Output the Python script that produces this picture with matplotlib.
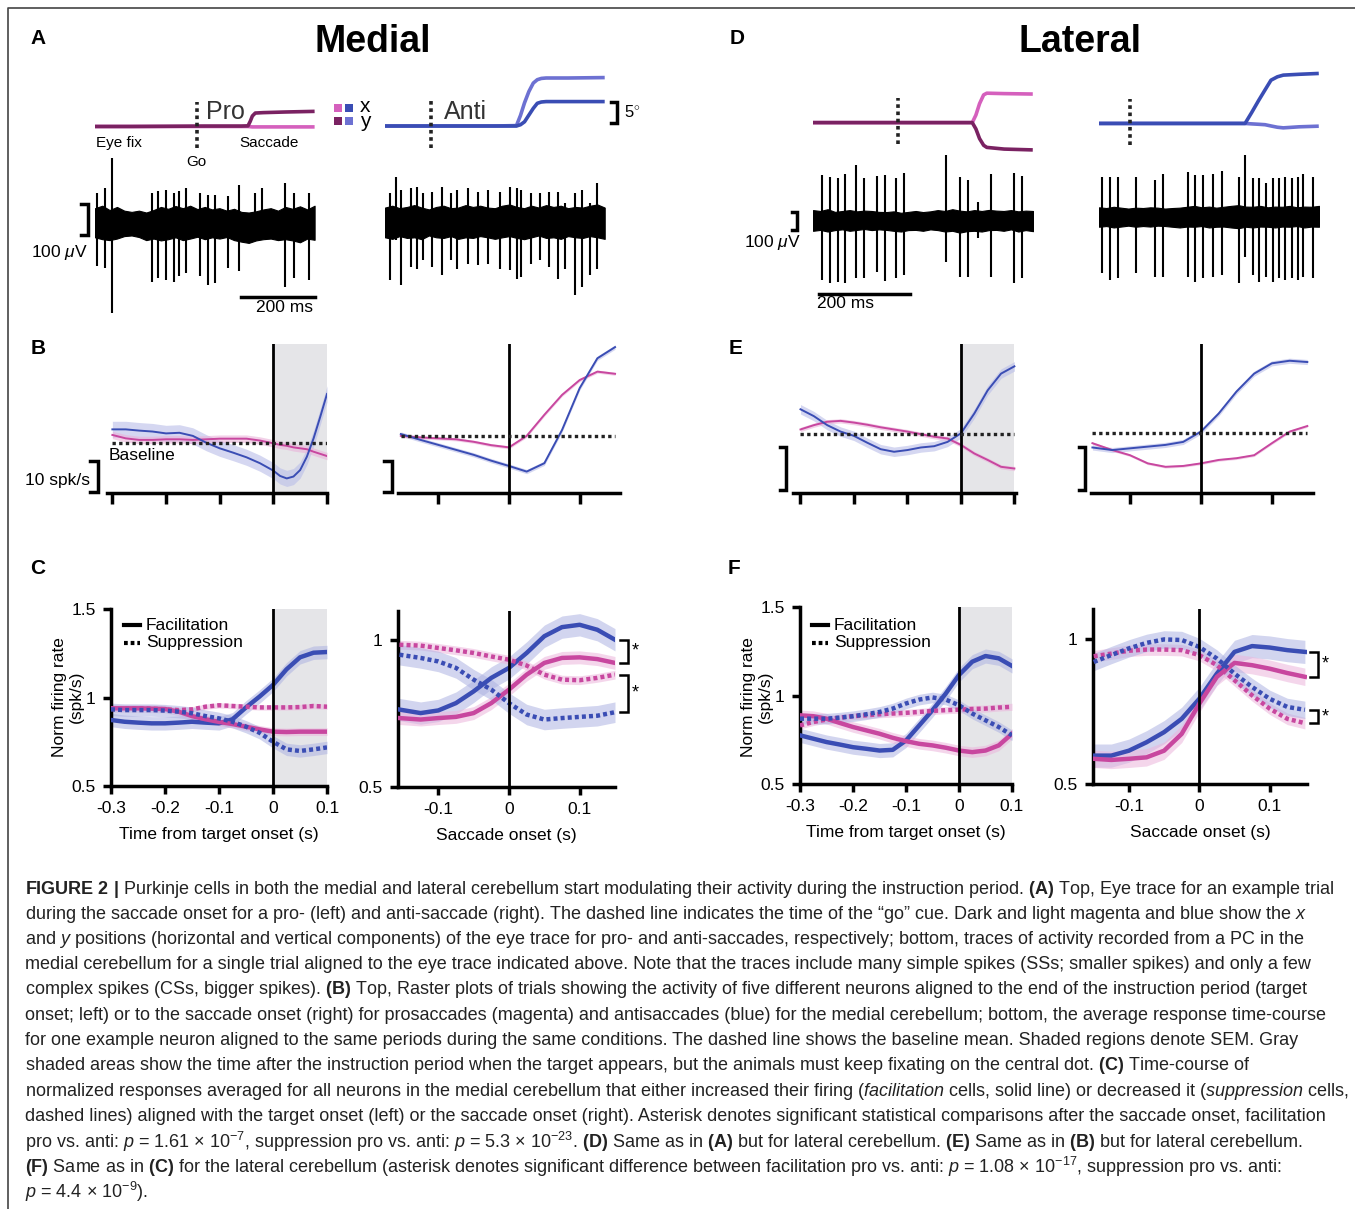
import numpy as np
import matplotlib
matplotlib.use('Agg')
import matplotlib.pyplot as plt
import matplotlib.transforms as mtransforms
from matplotlib.patches import Rectangle
from matplotlib.lines import Line2D

plt.rcParams['font.family'] = ['Liberation Sans', 'DejaVu Sans']
plt.rcParams['mathtext.fontset'] = 'custom'
plt.rcParams['mathtext.rm'] = 'Liberation Sans'
plt.rcParams['mathtext.it'] = 'Liberation Sans:italic'
plt.rcParams['mathtext.bf'] = 'Liberation Sans:bold'
plt.rcParams['axes.unicode_minus'] = False

# ---------------- data ----------------
# colours
BLUE = '#3a4db4'
LBLUE = '#6d71d2'
MAG = '#c8479f'
LMAG = '#d560bd'
DMAG = '#7a2262'

# A/D eye traces (ms, deg)
med_pro_t = [0, 100, 200, 300, 400, 418, 424, 430, 438, 460, 520, 600]
med_pro_x = [0, 0, 0, 0, 0, 0, -0.05, -0.1, -0.1, -0.1, -0.1, -0.1]
med_pro_y = [0, 0, 0.05, 0.1, 0.1, 0.15, 1.2, 2.5, 3.2, 3.3, 3.45, 3.6]
med_anti_t = [0, 100, 200, 300, 359, 370, 381, 393, 405, 416, 427, 440, 500, 600]
med_anti_x = [0, 0, 0, 0, 0, 0.3, 1.0, 2.6, 4.2, 5.4, 5.7, 5.8, 5.8, 5.8]
med_anti_y = [0, 0, 0, 0, 0.1, 2.5, 5.5, 8.2, 10.2, 11.0, 11.3, 11.4, 11.4, 11.5]
lat_pro_t = [0, 100, 200, 300, 350, 358, 366, 375, 382, 420, 483]
lat_pro_x = [0, 0, 0, 0, 0, 1.8, 4.5, 6.6, 7.0, 6.9, 6.8]
lat_pro_y = [0, 0, 0, 0, 0, -1.5, -3.8, -5.4, -5.9, -6.3, -6.5]
lat_anti_t = [0, 100, 200, 300, 321, 335, 351, 365, 378, 392, 405, 440, 483]
lat_anti_x = [0, 0, 0, 0, 0, 2.5, 5.5, 8.0, 10.3, 11.1, 11.5, 11.7, 11.9]
lat_anti_y = [0, 0, 0, 0, 0, -0.1, -0.2, -0.3, -0.6, -0.9, -1.05, -0.8, -0.65]
go_t = {'med_pro': 280, 'med_anti': 126, 'lat_pro': 186, 'lat_anti': 68}

# A/D spike traces: spike time (ms), peak and trough (uV)
med_pro_spk_t = [5, 26, 46, 156, 173, 195, 217, 229, 249, 288, 310, 327, 364, 394, 437, 457, 518, 543, 586]
med_pro_spk_top = [97, 113, 210, 97, 102, 108, 97, 102, 113, 97, 91, 91, 86, 124, 97, 113, 129, 97, 97]
med_pro_spk_bot = [-140, -145, -291, -189, -178, -183, -189, -172, -162, -172, -199, -194, -145, -156, -54, -43, -205, -178, -183]
med_anti_spk_t = [14, 29, 45, 71, 87, 105, 128, 155, 180, 197, 228, 254, 282, 313, 341, 360, 371, 399, 422, 448, 473, 492, 518, 539, 560, 580]
med_anti_spk_top = [92, 145, 102, 108, 113, 92, 97, 113, 92, 102, 108, 97, 102, 97, 113, 108, 102, 92, 92, 97, 97, 60, 92, 102, 60, 124]
med_anti_spk_bot = [-189, -60, -205, -145, -151, -124, -145, -172, -124, -151, -135, -140, -135, -151, -156, -183, -178, -135, -124, -145, -183, -151, -237, -210, -172, -151]
lat_pro_spk_t = [19, 37, 54, 70, 95, 113, 141, 158, 182, 199, 293, 323, 340, 363, 391, 442, 459]
lat_pro_spk_top = [250, 241, 231, 254, 306, 231, 244, 250, 231, 259, 361, 241, 222, 102, 254, 259, 246]
lat_pro_spk_bot = [-333, -352, -343, -352, -324, -324, -287, -341, -324, -306, -231, -315, -315, -102, -315, -348, -322]
lat_anti_spk_t = [7, 25, 41, 81, 123, 140, 195, 212, 228, 251, 270, 308, 320, 338, 351, 366, 383, 395, 409, 424, 437, 448, 471]
lat_anti_spk_top = [222, 222, 222, 222, 204, 235, 246, 231, 231, 235, 254, 222, 343, 213, 213, 185, 213, 213, 222, 213, 222, 235, 222]
lat_anti_spk_bot = [-315, -352, -343, -315, -333, -333, -333, -361, -339, -333, -324, -370, -222, -324, -365, -333, -361, -343, -352, -339, -352, -333, -343]

# noise envelopes (uV), 31 samples across each trace
med_pro_up = [48, 56, 42, 52, 40, 36, 40, 34, 42, 52, 46, 55, 48, 56, 45, 52, 44, 48, 40, 46, 36, 34, 38, 44, 48, 40, 52, 46, 54, 44, 56]
med_pro_lo = [-46, -52, -55, -50, -42, -40, -45, -55, -50, -56, -52, -46, -55, -50, -44, -52, -46, -50, -45, -55, -60, -64, -56, -52, -50, -55, -52, -56, -62, -50, -54]
med_anti_up = [46, 52, 44, 48, 54, 46, 40, 48, 52, 44, 46, 54, 48, 52, 46, 44, 52, 56, 48, 44, 52, 46, 54, 48, 52, 44, 48, 46, 52, 56, 46]
med_anti_lo = [-50, -55, -46, -52, -50, -56, -44, -50, -52, -46, -55, -50, -52, -46, -50, -55, -50, -46, -52, -56, -50, -44, -52, -50, -55, -46, -50, -52, -46, -50, -55]
lat_pro_up = [55, 50, 60, 45, 50, 55, 48, 52, 50, 45, 44, 48, 40, 45, 50, 44, 48, 55, 50, 60, 52, 48, 55, 50, 56, 52, 50, 55, 48, 52, 50]
lat_pro_lo = [-60, -55, -64, -56, -52, -60, -55, -50, -56, -52, -55, -60, -64, -56, -55, -60, -52, -56, -64, -60, -70, -62, -60, -64, -56, -55, -60, -52, -64, -56, -62]
lat_anti_up = [52, 48, 55, 50, 45, 50, 48, 52, 50, 45, 48, 50, 55, 60, 52, 56, 50, 55, 60, 64, 56, 55, 60, 52, 56, 55, 60, 52, 56, 55, 60]
lat_anti_lo = [-56, -52, -60, -55, -50, -56, -52, -55, -50, -52, -56, -60, -55, -56, -52, -60, -56, -55, -60, -64, -56, -60, -55, -56, -60, -55, -56, -52, -60, -55, -56]

# B: example neuron, medial (spk/s)
tB_target = [-0.3, -0.275, -0.25, -0.225, -0.2, -0.175, -0.15, -0.125, -0.1, -0.075, -0.05, -0.025, 0,
             0.0125, 0.025, 0.0375, 0.05, 0.0625, 0.075, 0.0875, 0.1]
B_tgt_anti = [20.5, 20.5, 20.1, 19.8, 19.2, 19.4, 18.4, 16.2, 14.4, 13.0, 11.5, 9.6, 7.2, 5.5, 4.7, 5.3, 7.4, 11.7, 17.6, 24.6, 31.9]
B_tgt_pro = [18.7, 17.6, 17.1, 17.1, 17.3, 17.3, 17.1, 17.3, 17.5, 17.5, 17.5, 16.9, 16.0, 15.5, 15.2, 14.7, 14.4, 14.1, 13.3, 12.6, 11.9]
B_tgt_sem = [2.6, 1.2]
B_tgt_base = 16.2
tB_sacc = [-0.153, -0.125, -0.1, -0.075, -0.05, -0.025, 0, 0.025, 0.05, 0.075, 0.1, 0.125, 0.15]
B_sac_anti = [19.0, 17.1, 15.5, 13.9, 12.3, 10.4, 8.7, 6.9, 9.6, 20.3, 33.8, 43.4, 47.0]
B_sac_pro = [18.4, 17.9, 17.6, 17.3, 16.5, 15.4, 14.7, 18.4, 25.2, 31.6, 36.4, 39.1, 38.4]
B_sac_sem = [0.7, 0.5]
B_sac_base = 18.4

# E: example neuron, lateral (spk/s)
tE_target = [-0.3, -0.275, -0.25, -0.225, -0.2, -0.175, -0.15, -0.125, -0.1, -0.075, -0.05, -0.025, 0, 0.025, 0.05, 0.075, 0.1]
E_tgt_anti = [19.5, 17.9, 15.8, 14.3, 13.3, 11.7, 10.2, 9.6, 10.0, 10.6, 10.9, 11.9, 13.9, 18.5, 23.9, 27.8, 29.5]
E_tgt_pro = [14.8, 15.8, 16.6, 16.8, 16.4, 15.9, 15.3, 14.8, 14.3, 13.7, 13.1, 12.7, 11.2, 9.2, 7.7, 6.1, 5.7]
E_tgt_sem = [1.1, 0.5]
E_tgt_base = 13.7
tE_sacc = [-0.153, -0.125, -0.1, -0.075, -0.05, -0.025, 0, 0.025, 0.05, 0.075, 0.1, 0.125, 0.15]
E_sac_anti = [10.6, 10.0, 10.4, 10.8, 11.2, 11.9, 14.3, 18.5, 23.6, 27.8, 30.2, 30.8, 30.5]
E_sac_pro = [11.6, 10.0, 8.8, 6.9, 6.1, 6.3, 6.9, 7.7, 8.1, 8.8, 11.6, 14.3, 15.6]
E_sac_sem = [0.6, 0.3]
E_sac_base = 14.0

# C: population, medial (normalised rate)
tC_target = [-0.3, -0.275, -0.25, -0.225, -0.2, -0.175, -0.15, -0.125, -0.1, -0.075, -0.05, -0.025, 0, 0.025, 0.05, 0.075, 0.1]
C_tgt_fac_anti = [0.873, 0.863, 0.858, 0.854, 0.854, 0.858, 0.863, 0.858, 0.854, 0.877, 0.944, 1.005, 1.071, 1.159, 1.227, 1.253, 1.257]
C_tgt_fac_pro = [0.939, 0.939, 0.939, 0.937, 0.935, 0.920, 0.895, 0.877, 0.862, 0.850, 0.835, 0.820, 0.807, 0.805, 0.807, 0.807, 0.807]
C_tgt_sup_pro = [0.935, 0.937, 0.939, 0.937, 0.933, 0.929, 0.933, 0.948, 0.956, 0.952, 0.948, 0.944, 0.944, 0.944, 0.946, 0.952, 0.948]
C_tgt_sup_anti = [0.933, 0.929, 0.929, 0.929, 0.926, 0.920, 0.911, 0.895, 0.882, 0.863, 0.835, 0.801, 0.750, 0.707, 0.698, 0.707, 0.718]
tC_sacc = [-0.155, -0.125, -0.1, -0.075, -0.05, -0.025, 0, 0.025, 0.05, 0.075, 0.1, 0.125, 0.15]
C_sac_fac_anti = [0.764, 0.752, 0.761, 0.786, 0.826, 0.872, 0.906, 0.957, 1.014, 1.045, 1.053, 1.036, 1.002]
C_sac_fac_pro = [0.735, 0.730, 0.735, 0.739, 0.752, 0.786, 0.832, 0.883, 0.923, 0.940, 0.942, 0.936, 0.923]
C_sac_sup_pro = [0.985, 0.982, 0.974, 0.966, 0.957, 0.945, 0.934, 0.914, 0.883, 0.866, 0.864, 0.872, 0.883]
C_sac_sup_anti = [0.951, 0.940, 0.928, 0.906, 0.866, 0.832, 0.786, 0.747, 0.730, 0.735, 0.739, 0.743, 0.755]
C_sem = [0.038, 0.022, 0.015, 0.035]   # fac_anti, fac_pro, sup_pro, sup_anti

# F: population, lateral
tF_target = [-0.3, -0.275, -0.25, -0.225, -0.2, -0.175, -0.15, -0.125, -0.1, -0.075, -0.05, -0.025, 0, 0.025, 0.05, 0.075, 0.1]
F_tgt_fac_anti = [0.775, 0.756, 0.737, 0.723, 0.708, 0.699, 0.689, 0.693, 0.746, 0.831, 0.917, 1.011, 1.116, 1.191, 1.223, 1.210, 1.167]
F_tgt_fac_pro = [0.888, 0.883, 0.869, 0.845, 0.822, 0.803, 0.784, 0.761, 0.742, 0.727, 0.718, 0.705, 0.689, 0.680, 0.689, 0.718, 0.784]
F_tgt_sup_anti = [0.869, 0.869, 0.869, 0.875, 0.883, 0.894, 0.907, 0.926, 0.955, 0.977, 0.989, 0.977, 0.945, 0.898, 0.860, 0.822, 0.775]
F_tgt_sup_pro = [0.831, 0.850, 0.864, 0.875, 0.883, 0.888, 0.894, 0.898, 0.902, 0.907, 0.913, 0.917, 0.920, 0.924, 0.926, 0.932, 0.936]
tF_sacc = [-0.15, -0.125, -0.1, -0.075, -0.05, -0.025, 0, 0.025, 0.05, 0.075, 0.1, 0.125, 0.15]
F_sac_fac_anti = [0.598, 0.598, 0.615, 0.644, 0.679, 0.725, 0.794, 0.881, 0.956, 0.976, 0.971, 0.962, 0.956]
F_sac_fac_pro = [0.587, 0.583, 0.587, 0.592, 0.615, 0.673, 0.777, 0.870, 0.918, 0.910, 0.898, 0.883, 0.870]
F_sac_sup_anti = [0.921, 0.945, 0.968, 0.987, 0.999, 0.997, 0.973, 0.933, 0.881, 0.835, 0.794, 0.766, 0.756]
F_sac_sup_pro = [0.941, 0.950, 0.960, 0.964, 0.964, 0.962, 0.945, 0.910, 0.858, 0.806, 0.760, 0.725, 0.710]
F_sem = [0.04, 0.03, 0.02, 0.03]   # fac_anti, fac_pro, sup_pro, sup_anti

caption = [
    r"$\mathbf{FIGURE\ 2\ |}$ Purkinje cells in both the medial and lateral cerebellum start modulating their activity during the instruction period. $\mathbf{(A)}$ Top, Eye trace for an example trial",
    r"during the saccade onset for a pro- (left) and anti-saccade (right). The dashed line indicates the time of the “go” cue. Dark and light magenta and blue show the $x$",
    r"and $y$ positions (horizontal and vertical components) of the eye trace for pro- and anti-saccades, respectively; bottom, traces of activity recorded from a PC in the",
    "medial cerebellum for a single trial aligned to the eye trace indicated above. Note that the traces include many simple spikes (SSs; smaller spikes) and only a few",
    r"complex spikes (CSs, bigger spikes). $\mathbf{(B)}$ Top, Raster plots of trials showing the activity of five different neurons aligned to the end of the instruction period (target",
    "onset; left) or to the saccade onset (right) for prosaccades (magenta) and antisaccades (blue) for the medial cerebellum; bottom, the average response time-course",
    "for one example neuron aligned to the same periods during the same conditions. The dashed line shows the baseline mean. Shaded regions denote SEM. Gray",
    r"shaded areas show the time after the instruction period when the target appears, but the animals must keep fixating on the central dot. $\mathbf{(C)}$ Time-course of",
    r"normalized responses averaged for all neurons in the medial cerebellum that either increased their firing ($\mathit{facilitation}$ cells, solid line) or decreased it ($\mathit{suppression}$ cells,",
    "dashed lines) aligned with the target onset (left) or the saccade onset (right). Asterisk denotes significant statistical comparisons after the saccade onset, facilitation",
    r"pro vs. anti: $p$ = 1.61 × 10$^{-7}$, suppression pro vs. anti: $p$ = 5.3 × 10$^{-23}$. $\mathbf{(D)}$ Same as in $\mathbf{(A)}$ but for lateral cerebellum. $\mathbf{(E)}$ Same as in $\mathbf{(B)}$ but for lateral cerebellum.",
    r"$\mathbf{(F)}$ Same as in $\mathbf{(C)}$ for the lateral cerebellum (asterisk denotes significant difference between facilitation pro vs. anti: $p$ = 1.08 × 10$^{-17}$, suppression pro vs. anti:",
    r"$p$ = 4.4 × 10$^{-9}$).",
]

# ---------------- figure ----------------
W, H = 1355, 1209
fig = plt.figure(figsize=(W / 100, H / 100), dpi=100)


def px_axes(x0, y0, x1, y1):
    # axes from pixel box (y measured from the top)
    return fig.add_axes([x0 / W, 1 - y1 / H, (x1 - x0) / W, (y1 - y0) / H])


def ftext(x, y, s, **kw):
    kw.setdefault('va', 'center')
    return fig.text(x / W, 1 - y / H, s, **kw)


def fline(xs, ys, **kw):
    fig.add_artist(Line2D([x / W for x in xs], [1 - y / H for y in ys], transform=fig.transFigure, **kw))


def bracket(ax, x, y0, y1, w, lw=2.5):
    tr = mtransforms.blended_transform_factory(ax.transAxes, ax.transData)
    ax.plot([x - w, x, x, x - w], [y0, y0, y1, y1], color='black', lw=lw,
             transform=tr, clip_on=False, solid_joinstyle='miter')


def bare(ax):
    for s in ax.spines.values():
        s.set_visible(False)
    ax.set_xticks([])
    ax.set_yticks([])
    ax.patch.set_alpha(0)


# frame
fline([8, 8, W], [H, 8, 8], color='#444444', lw=1.2)

# titles and panel letters
ftext(373, 42, 'Medial', fontsize=27, fontweight='bold', ha='center')
ftext(1080, 42, 'Lateral', fontsize=27, fontweight='bold', ha='center')
for lab, x, y in [('A', 38, 38), ('D', 737, 38), ('B', 38, 348), ('E', 736, 348), ('C', 38, 568), ('F', 734, 568)]:
    ftext(x, y, lab, fontsize=15, fontweight='bold', ha='center')


# ---- A / D : eye traces ----
def eye_panel(box, ylim, t, xs, ys, cx, cy, go, tmax):
    ax = px_axes(*box)
    bare(ax)
    ax.set_xlim(0, tmax)
    ax.set_ylim(*ylim)
    ax.plot(t, xs, color=cx, lw=2.6, solid_capstyle='butt')
    ax.plot(t, ys, color=cy, lw=2.6, solid_capstyle='butt')
    ax.vlines(go, -5.2, 5.9, color='#222222', lw=2.6, linestyles=(0, (1, 1)))
    return ax


eye_mp = eye_panel((95, 70, 314.6, 150), (-5.6, 13.45), med_pro_t, med_pro_x, med_pro_y, LMAG, DMAG, go_t['med_pro'], 600)
eye_ma = eye_panel((385, 70, 604.7, 150), (-5.7, 13.3), med_anti_t, med_anti_y, med_anti_x, LBLUE, BLUE, go_t['med_anti'], 600)
eye_lp = eye_panel((813, 60, 1033, 160), (-8.9, 14.9), lat_pro_t, lat_pro_x, lat_pro_y, LMAG, DMAG, go_t['lat_pro'], 483.5)
eye_la = eye_panel((1099, 60, 1319, 160), (-8.7, 15.1), lat_anti_t, lat_anti_y, lat_anti_x, LBLUE, BLUE, go_t['lat_anti'], 483.5)

ftext(206, 112, 'Pro', fontsize=18, color='#333333')
ftext(444, 112, 'Anti', fontsize=18, color='#333333')
ftext(119, 143, 'Eye fix', fontsize=11, ha='center')
ftext(196, 162, 'Go', fontsize=11, ha='center')
ftext(269, 143, 'Saccade', fontsize=11, ha='center')
bracket(eye_ma, 1.056, 0.7, 5.7, 0.027)
ftext(624, 112, '5$^{\\circ}$', fontsize=12)

# x / y colour key
for (x0, y0, c) in [(334, 104, LMAG), (345, 104, BLUE), (334, 117, DMAG), (345, 117, LBLUE)]:
    fig.add_artist(Rectangle((x0 / W, 1 - (y0 + 8) / H), 8 / W, 8 / H, transform=fig.transFigure,
                             facecolor=c, edgecolor='none'))
ftext(365, 114, 'x\ny', fontsize=15, ha='center', linespacing=0.78)


# ---- A / D : spike traces ----
def spike_panel(box, ylim, tmax, up, lo, st, stop, sbot):
    ax = px_axes(*box)
    bare(ax)
    ax.set_xlim(0, tmax)
    ax.set_ylim(*ylim)
    te = np.linspace(0, tmax, len(up))
    ax.fill_between(te, lo, up, color='black', lw=0.8)
    ax.vlines(st, sbot, stop, color='black', lw=1.5)
    return ax


sp_mp = spike_panel((95, 140, 314.6, 330), (-345, 268), 600, med_pro_up, med_pro_lo,
                    med_pro_spk_t, med_pro_spk_top, med_pro_spk_bot)
sp_ma = spike_panel((385, 140, 604.7, 330), (-349, 264), 600, med_anti_up, med_anti_lo,
                    med_anti_spk_t, med_anti_spk_top, med_anti_spk_bot)
sp_lp = spike_panel((813, 140, 1033, 300), (-444, 444), 483.5, lat_pro_up, lat_pro_lo,
                    lat_pro_spk_t, lat_pro_spk_top, lat_pro_spk_bot)
sp_la = spike_panel((1099, 140, 1319, 300), (-463, 426), 483.5, lat_anti_up, lat_anti_lo,
                    lat_anti_spk_t, lat_anti_spk_top, lat_anti_spk_bot)

# scale bars
bracket(sp_mp, -0.032, -39, 61, 0.032)
ftext(88, 253, '100 $\\mu$V', fontsize=12.5, ha='right')
sp_mp.plot([400, 600], [-239, -239], color='black', lw=2.5, clip_on=False)
ftext(313, 308, '200 ms', fontsize=12.5, ha='right')
bracket(sp_lp, -0.073, -56, 44, 0.023)
ftext(801, 242, '100 $\\mu$V', fontsize=12.5, ha='right')
sp_lp.plot([13, 213], [-411, -411], color='black', lw=2.5, clip_on=False)
ftext(817, 304, '200 ms', fontsize=12.5, ha='left')


# ---- B / E : example neuron ----
def rate_panel(box, xlim, ylim, ticks, t, anti, pro, sem, base, shade):
    ax = px_axes(*box)
    ax.patch.set_alpha(0)
    ax.set_xlim(*xlim)
    ax.set_ylim(*ylim)
    for s in ['left', 'top', 'right']:
        ax.spines[s].set_visible(False)
    ax.spines['bottom'].set_linewidth(2.5)
    ax.set_xticks(ticks)
    ax.set_xticklabels([])
    ax.set_yticks([])
    ax.tick_params(axis='x', direction='out', length=8, width=2.5)
    if shade:
        ax.axvspan(0, 0.1, color='#e5e5e8', lw=0, zorder=0)
    ax.axvline(0, color='black', lw=2, zorder=3)
    anti = np.array(anti)
    pro = np.array(pro)
    ax.fill_between(t, anti - sem[0], anti + sem[0], color='#b9bde8', alpha=0.6, lw=0, zorder=1)
    ax.fill_between(t, pro - sem[1], pro + sem[1], color='#eab3da', alpha=0.6, lw=0, zorder=1)
    ax.plot(t, pro, color=MAG, lw=1.4, zorder=2)
    ax.plot(t, anti, color=BLUE, lw=1.4, zorder=2)
    ax.hlines(base, t[0], t[-1], color='#222222', lw=2.4, linestyles=(0, (1, 1)), zorder=4)
    return ax


axB1 = rate_panel((107, 344, 327, 493), (-0.31, 0.1), (0, 48), [-0.3, -0.2, -0.1, 0, 0.1],
                  tB_target, B_tgt_anti, B_tgt_pro, B_tgt_sem, B_tgt_base, True)
axB2 = rate_panel((398, 344, 620, 493), (-0.157, 0.157), (0, 48), [-0.1, 0, 0.1],
                  tB_sacc, B_sac_anti, B_sac_pro, B_sac_sem, B_sac_base, False)
axE1 = rate_panel((793, 344, 1016, 493), (-0.314, 0.103), (0, 34.7), [-0.3, -0.2, -0.1, 0, 0.1],
                  tE_target, E_tgt_anti, E_tgt_pro, E_tgt_sem, E_tgt_base, True)
axE2 = rate_panel((1091, 344, 1313, 493), (-0.155, 0.158), (0, 34.7), [-0.1, 0, 0.1],
                  tE_sacc, E_sac_anti, E_sac_pro, E_sac_sem, E_sac_base, False)
bracket(axB1, -0.041, 0.3, 10.3, 0.036)
bracket(axB2, -0.027, 0.3, 10.3, 0.036)
bracket(axE1, -0.031, 0.7, 10.7, 0.027)
bracket(axE2, -0.027, 0.7, 10.7, 0.027)
ftext(109, 456, 'Baseline', fontsize=12.5)
ftext(90, 480, '10 spk/s', fontsize=12.5, ha='right')


# ---- C / F : population ----
def pop_panel(box, xlim, ylim, xticks, xlabels, yticks, ylabels, t, fa, fp, sp, sa, sem, shade, xlabel):
    ax = px_axes(*box)
    ax.patch.set_alpha(0)
    ax.set_xlim(*xlim)
    ax.set_ylim(*ylim)
    for s in ['top', 'right']:
        ax.spines[s].set_visible(False)
    for s in ['left', 'bottom']:
        ax.spines[s].set_linewidth(2.5)
    ax.set_xticks(xticks)
    ax.set_xticklabels(xlabels)
    ax.set_yticks(yticks)
    ax.set_yticklabels(ylabels)
    ax.tick_params(direction='out', length=6, width=2.5, labelsize=12.5, pad=5)
    ax.set_xlabel(xlabel, fontsize=12.5, labelpad=8)
    if shade:
        ax.axvspan(0, 0.1, color='#e5e5e8', lw=0, zorder=0)
    ax.axvline(0, color='black', lw=2, zorder=5)
    series = [(fa, BLUE, '#aeb3e2', '-'), (fp, MAG, '#ecb5dc', '-'),
              (sp, MAG, '#ecb5dc', (0, (0.9, 0.7))), (sa, BLUE, '#aeb3e2', (0, (0.9, 0.7)))]
    for (v, c, fc, ls), e in zip(series, sem):
        v = np.array(v)
        ax.fill_between(t, v - e, v + e, color=fc, alpha=0.55, lw=0, zorder=1)
    for (v, c, fc, ls) in series:
        ax.plot(t, v, color=c, lw=3.2, linestyle=ls, zorder=3)
    return ax


axC1 = pop_panel((111, 609, 327, 786), (-0.3, 0.1), (0.5, 1.5), [-0.3, -0.2, -0.1, 0, 0.1],
                 ['-0.3', '-0.2', '-0.1', '0', '0.1'], [0.5, 1, 1.5], ['0.5', '1', '1.5'],
                 tC_target, C_tgt_fac_anti, C_tgt_fac_pro, C_tgt_sup_pro, C_tgt_sup_anti, C_sem,
                 True, 'Time from target onset (s)')
axC2 = pop_panel((398, 611, 615, 787), (-0.157, 0.15), (0.5, 1.1), [-0.1, 0, 0.1],
                 ['-0.1', '0', '0.1'], [0.5, 1], ['0.5', '1'],
                 tC_sacc, C_sac_fac_anti, C_sac_fac_pro, C_sac_sup_pro, C_sac_sup_anti, C_sem,
                 False, 'Saccade onset (s)')
axF1 = pop_panel((800, 607, 1012, 784), (-0.3, 0.1), (0.5, 1.5), [-0.3, -0.2, -0.1, 0, 0.1],
                 ['-0.3', '-0.2', '-0.1', '0', '0.1'], [0.5, 1, 1.5], ['0.5', '1', '1.5'],
                 tF_target, F_tgt_fac_anti, F_tgt_fac_pro, F_tgt_sup_pro, F_tgt_sup_anti, F_sem,
                 True, 'Time from target onset (s)')
axF2 = pop_panel((1093, 609, 1307, 784), (-0.151, 0.153), (0.5, 1.104), [-0.1, 0, 0.1],
                 ['-0.1', '0', '0.1'], [0.5, 1], ['0.5', '1'],
                 tF_sacc, F_sac_fac_anti, F_sac_fac_pro, F_sac_sup_pro, F_sac_sup_anti, F_sem,
                 False, 'Saccade onset (s)')

# significance brackets from curve end values
for ax, xb, pairs in [(axC2, 1.06, [(C_sac_fac_anti, C_sac_fac_pro), (C_sac_sup_pro, C_sac_sup_anti)]),
                      (axF2, 1.051, [(F_sac_fac_anti, F_sac_fac_pro), (F_sac_sup_anti, F_sac_sup_pro)])]:
    for a, b in pairs:
        bracket(ax, xb, a[-1], b[-1], 0.037, lw=1.8)
        tr = mtransforms.blended_transform_factory(ax.transAxes, ax.transData)
        ax.text(xb + 0.018, (a[-1] + b[-1]) / 2, '*', transform=tr, fontsize=13, va='center', ha='left')

# ylabels and legends
for xc in [68, 757]:
    ftext(xc, 697, 'Norm firing rate\n(spk/s)', fontsize=12.5, rotation=90, ha='center',
          multialignment='center', linespacing=1.15)
for x0 in [124, 812]:
    fline([x0, x0 + 16], [625, 625], color='black', lw=3)
    fline([x0, x0 + 16], [643, 643], color='black', lw=3, linestyle=(0, (0.9, 0.7)))
    ftext(x0 + 22, 625, 'Facilitation', fontsize=12.5)
    ftext(x0 + 22, 643, 'Suppression', fontsize=12.5)

# caption
for i, line in enumerate(caption):
    ftext(25, 889 + i * 25.25, line, fontsize=12.95, color='#222222')

fig.savefig('out.png', dpi=100)
